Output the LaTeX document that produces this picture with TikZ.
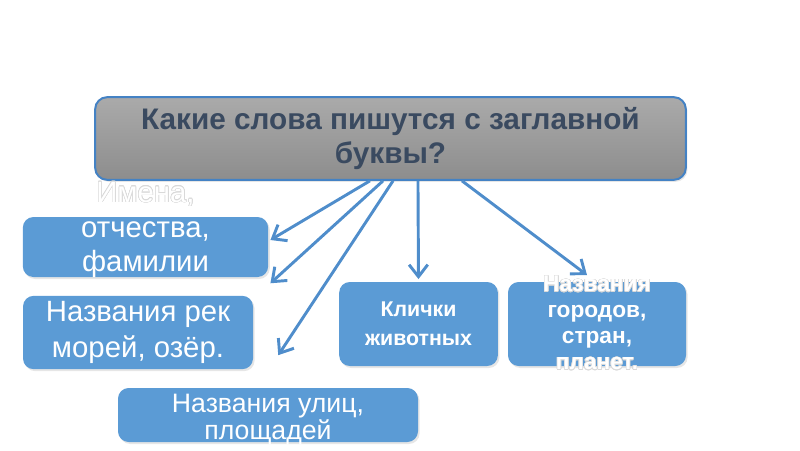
\documentclass[tikz,border=0pt]{standalone}
\usepackage{fontspec}
\setmainfont{Liberation Sans}
\usepackage[copies]{contour}
\usetikzlibrary{arrows.meta,shadows}
\definecolor{qtop}{HTML}{AAAAAA}
\definecolor{qbot}{HTML}{8D8D8D}
\definecolor{qedge}{HTML}{4482C4}
\definecolor{qtext}{HTML}{3A4A60}
\definecolor{bfill}{HTML}{5B9BD5}
\definecolor{arrowc}{HTML}{4F8DCB}
\contourlength{0.45pt}
\tikzset{
    box/.style={rounded corners=8pt, align=center, inner sep=0pt,
        drop shadow={opacity=0.2, shadow xshift=1.2pt, shadow yshift=-1.5pt}},
    qbox/.style={box, draw=qedge, line width=1.5pt, top color=qtop, bottom color=qbot,
        rounded corners=9pt, text=qtext, font=\fontsize{22.3}{26}\selectfont\bfseries},
    bbox/.style={box, fill=bfill, text=white},
    txt/.style={align=center, inner sep=0pt, text=white},
    flow/.style={draw=arrowc, line width=2.2pt, -{Straight Barb[length=9pt,width=14pt]}}
}

\begin{document}
\begin{tikzpicture}[x=0.75pt, y=-0.75pt]
\useasboundingbox (0,0) rectangle (800,450);

% question
\node[qbox, minimum width=443pt, minimum height=62pt] (quest) at (390.5,138.5)
    {Какие слова пишутся с заглавной\\буквы?};

% answers
\node[bbox, minimum width=184pt, minimum height=45pt] (names) at (145.5,247) {};
\node[bbox, minimum width=172.5pt, minimum height=55pt,
    font=\fontsize{22}{27}\selectfont] (seas) at (138,332.5)
    {Названия рек\\морей, озёр.};
\node[bbox, minimum width=225pt, minimum height=40.5pt] (streets) at (268,415) {};
\node[bbox, minimum width=119pt, minimum height=63pt,
    font=\fontsize{16}{21.5}\selectfont\bfseries] (pets) at (418.5,324)
    {Клички\\животных};
\node[bbox, minimum width=133.5pt, minimum height=63pt] (cities) at (597,324) {};

% texts running out of their boxes
\node[txt, font=\fontsize{22}{26}\selectfont] (namestxt) at ([yshift=12.75pt]names.center)
    {\contour{black!15}{Имена,}\\отчества,\\фамилии};
\node[txt, font=\fontsize{20}{20}\selectfont] (streetstxt) at ([yshift=-3.5pt]streets.center)
    {Названия улиц,\\площадей};
\node[txt, font=\fontsize{17}{19.5}\selectfont\bfseries] (citiestxt) at ([yshift=0.5pt]cities.center)
    {\contour{black!15}{Названия}\\городов,\\стран,\\\contour{black!15}{планет.}};

% arrows
\draw[flow] ([xshift=-15.4pt]quest.south) -- ([xshift=1.5pt,yshift=5.25pt]names.east);
\draw[flow] ([xshift=-5.6pt]quest.south) -- ([xshift=1.5pt,yshift=-4.5pt]names.south east);
\draw[flow] ([xshift=1.9pt]quest.south) -- ([xshift=18.75pt,yshift=-17pt]seas.east);
\draw[flow] ([xshift=20.6pt]quest.south) -- ([yshift=2pt]pets.north);
\draw[flow] ([xshift=53.6pt]quest.south) -- ([xshift=-7.5pt,yshift=5pt]cities.north);
\end{tikzpicture}
\end{document}
